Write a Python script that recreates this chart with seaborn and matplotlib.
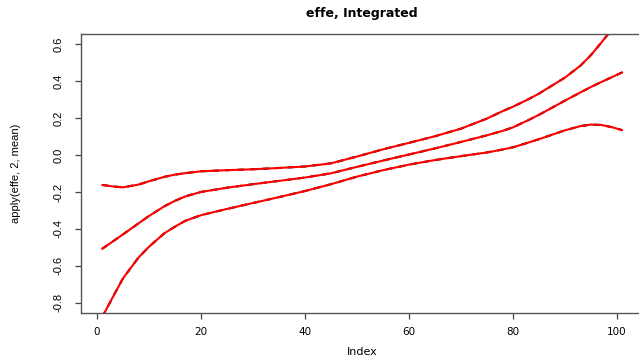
"""
Integrated effect curves: mean with upper and lower bands (R base-graphics look).
"""

import matplotlib

matplotlib.use("Agg")
import matplotlib.pyplot as plt
import numpy as np
import pandas as pd
import seaborn as sns

# Index positions
index = [1, 3, 5, 8, 10, 13, 15, 17, 20, 25, 30, 35, 40, 45, 50, 55, 60,
         65, 70, 75, 78, 80, 83, 85, 90, 93, 95, 97, 99, 101]

# Upper band
upper = [-0.162, -0.170, -0.175, -0.160, -0.142, -0.118, -0.106, -0.098, -0.088,
         -0.082, -0.077, -0.070, -0.062, -0.045, -0.008, 0.031, 0.066,
         0.102, 0.143, 0.198, 0.238, 0.262, 0.303, 0.333, 0.420, 0.485, 0.542,
         0.610, 0.680, 0.750]

# Mean curve
middle = [-0.508, -0.469, -0.430, -0.370, -0.330, -0.277, -0.248, -0.224, -0.200,
          -0.177, -0.158, -0.140, -0.122, -0.099, -0.064, -0.030, 0.003,
          0.036, 0.071, 0.107, 0.131, 0.150, 0.190, 0.218, 0.295, 0.340, 0.369,
          0.396, 0.422, 0.448]

# Lower band
lower = [-0.878, -0.772, -0.668, -0.555, -0.497, -0.423, -0.388, -0.356, -0.326,
         -0.292, -0.260, -0.228, -0.195, -0.158, -0.117, -0.082, -0.052,
         -0.027, -0.006, 0.014, 0.030, 0.042, 0.068, 0.086, 0.134, 0.157, 0.165,
         0.163, 0.151, 0.135]

x_ticks = [0, 20, 40, 60, 80, 100]
y_ticks = [-0.8, -0.6, -0.4, -0.2, 0.0, 0.2, 0.4, 0.6]

TITLE = "effe, Integrated"
X_LABEL = "Index"
Y_LABEL = "apply(effe, 2, mean)"

sns.set_style("white")
plt.rcParams["font.family"] = ["DejaVu Sans"]
plt.rcParams["axes.unicode_minus"] = False
plt.rcParams["text.color"] = "black"
plt.rcParams["axes.labelcolor"] = "black"
plt.rcParams["xtick.color"] = "black"
plt.rcParams["ytick.color"] = "black"

narrow = ["Liberation Sans Narrow", "Liberation Sans", "DejaVu Sans"]

fig = plt.figure(figsize=(6.39, 3.56), dpi=100)
ax = fig.add_axes([81.4 / 639, 1 - 313 / 356, (643 - 81.4) / 639, (313 - 34) / 356])

df = pd.DataFrame({"index": index, "upper": upper, "middle": middle, "lower": lower})

for col in ["upper", "middle", "lower"]:
    # black dashed underneath, red solid on top
    sns.lineplot(data=df, x="index", y=col, ax=ax, color="black",
                 linestyle=(0, (3, 3)), linewidth=1.5, estimator=None, sort=False)
    sns.lineplot(data=df, x="index", y=col, ax=ax, color="#ff0000",
                 linewidth=1.5, estimator=None, sort=False)

ax.set_xlim(-3, 105)
ax.set_ylim(-0.856, 0.656)
ax.set_xticks(x_ticks)
ax.set_yticks(y_ticks)
ax.set_xticklabels([str(t) for t in x_ticks], fontsize=7.5)
ax.set_yticklabels([f"{t:.1f}" for t in y_ticks], rotation=90, va="center",
                   fontsize=8, family=narrow)

ax.tick_params(axis="both", direction="out", length=4, width=0.9, color="#444444",
               left=True, bottom=True)
ax.tick_params(axis="y", pad=9)
ax.tick_params(axis="x", pad=6)

for side in ["left", "bottom", "top", "right"]:
    ax.spines[side].set_color("#555555")
    ax.spines[side].set_linewidth(1.0)

ax.set_xlabel(X_LABEL, fontsize=8)
ax.set_ylabel(Y_LABEL, fontsize=8, family=narrow)
ax.xaxis.set_label_coords(0.5, -0.14)
ax.yaxis.set_label_coords(-0.1165, 0.5)
ax.xaxis.label.set_va("center")
ax.yaxis.label.set_va("center")

ax.text(0.5, 1.075, TITLE, transform=ax.transAxes, ha="center", va="center",
        fontsize=9, fontweight="bold")

fig.savefig("out.png", dpi=100)
plt.close(fig)
